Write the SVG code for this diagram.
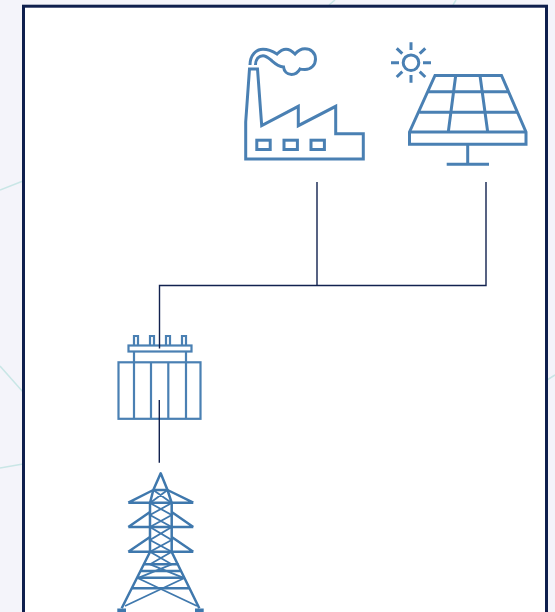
<svg xmlns="http://www.w3.org/2000/svg" width="555" height="612" viewBox="0 0 555 612">
  <style>
    .bg { stroke: #c9e6e6; stroke-width: 1.5; fill: none; }
    .icon { fill: none; stroke: #4a80b3; stroke-width: 3; stroke-linejoin: miter; }
    .thin { fill: none; stroke: #4a80b3; stroke-width: 2.2; }
    .tower { fill: none; stroke: #3f78ad; stroke-width: 2.500; stroke-linejoin: round; }
    .tower2 { fill: none; stroke: #3f78ad; stroke-width: 1.800; }
    .conn { fill: none; stroke: #12224f; stroke-width: 1.400; }
  </style>
  <rect width="555" height="612" fill="#f4f4fa"/>
  <g id="background-lines">
    <path class="bg" d="M0 190L23 181M0 366L23 392M0 468L23 464M547 380L555 375M329 5L335 0M453 5L456 0"/>
  </g>
  <rect id="frame" x="23.500" y="6.200" width="523" height="640" fill="#fff" stroke="#0f1f4d" stroke-width="3"/>
  <g id="factory">
    <path class="icon" d="M249.500 69H257.500L261.700 125.700L298.300 106.300V125.700L335.700 106.300V133.700H363.300V159H245.700V122Z"/>
    <rect class="icon" x="256.800" y="140.200" width="13.400" height="9.300"/>
    <rect class="icon" x="284" y="140.200" width="13.400" height="9.300"/>
    <rect class="icon" x="311" y="140.200" width="13.400" height="9.300"/>
    <path class="icon" d="M250 65C250 55 256 49.300 263 49.300C269 49.300 273 51.500 277 54C280 51 283 49.300 286 49.300C289.500 49.300 292 51 295 54C298 50.500 301 48.800 305 48.800C311 48.800 315.500 53 315.500 59C315.500 65 311 69.500 305 69.500C303 69.500 301 69.500 300 69C298 72.500 295 74.500 291.500 74.500C287 74.500 284 71 283.500 67C278 66.500 275 63.500 271 60C268 57.500 266 55.700 263 55.700C259 55.700 255.500 59 255.500 65"/>
  </g>
  <g id="solar-panel">
    <path class="icon" d="M435 75.500H501.500L526 132V144.300H409.500V132Z"/>
    <path class="icon" d="M409.500 132H526M428 91.700H509M419.300 112.300H517.300M455.700 75.500L448.300 132M480 75.500L487.700 132M467.700 144.300V164.300M446.700 164.300H489"/>
    <circle class="icon" cx="411" cy="62.700" r="7.800"/>
    <path class="icon" d="M411 42.300V50M411 75V82.700M391 62.700H399M423 62.700H431M396.700 48.300L402.300 53.700M419.700 53.700L425.300 48.300M396.700 77L402.300 71.700M419.700 71.700L425.300 77"/>
  </g>
  <g id="transformer">
    <rect class="thin" x="118.500" y="362.300" width="82" height="56.500"/>
    <rect class="thin" x="128.500" y="345.500" width="63" height="6"/>
    <path class="thin" d="M134 351.500V418.800M151 362.300V418.800M168.300 362.300V418.800M186 351.500V418.800"/>
    <path class="thin" d="M134 345.500V336H138V345.500M150 345.500V336H154V345.500M166 345.500V336H170V345.500M182 345.500V336H186V345.500"/>
  </g>
  <g id="pylon">
    <path class="tower" d="M153.300 490L160.700 473.300L167.500 490M153.300 490H167.500L171.700 503V552L199.300 608.300M153.300 490L150 503V552L121.700 608.300"/>
    <path class="tower" d="M128.300 502.700H193.300M128.300 527H193.300M128.300 551.700H193.300M153.300 490L128.300 502.700M167.500 490L193.300 502.700M150 512L128.300 527M171.700 512L193.300 527M150 537L128.300 551.700M171.700 537L193.300 551.700"/>
    <path class="tower2" d="M150 503L171.700 515L150 527L171.700 540L150 551.700L171.700 564.300L139 577.700M171.700 503L150 515L171.700 527L150 540L171.700 551.700L150 564.300L183 577.700M153.300 490L171.700 503M167.500 490L150 503"/>
    <path class="tower" d="M143 564.300H178.500M140 571H181M137 577.700H185M131 588.300H190"/>
    <path class="tower2" d="M125 606L185 577.700M197 606L137 577.700"/>
    <path fill="#3f78ad" d="M117.300 608.500H126V612H117.300ZM195 608.500H203.700V612H195Z"/>
  </g>
  <g id="connectors">
    <path class="conn" d="M317 182V285.500M486 182V285.500H159.500V348.500M159.300 400V462.700"/>
  </g>
</svg>
